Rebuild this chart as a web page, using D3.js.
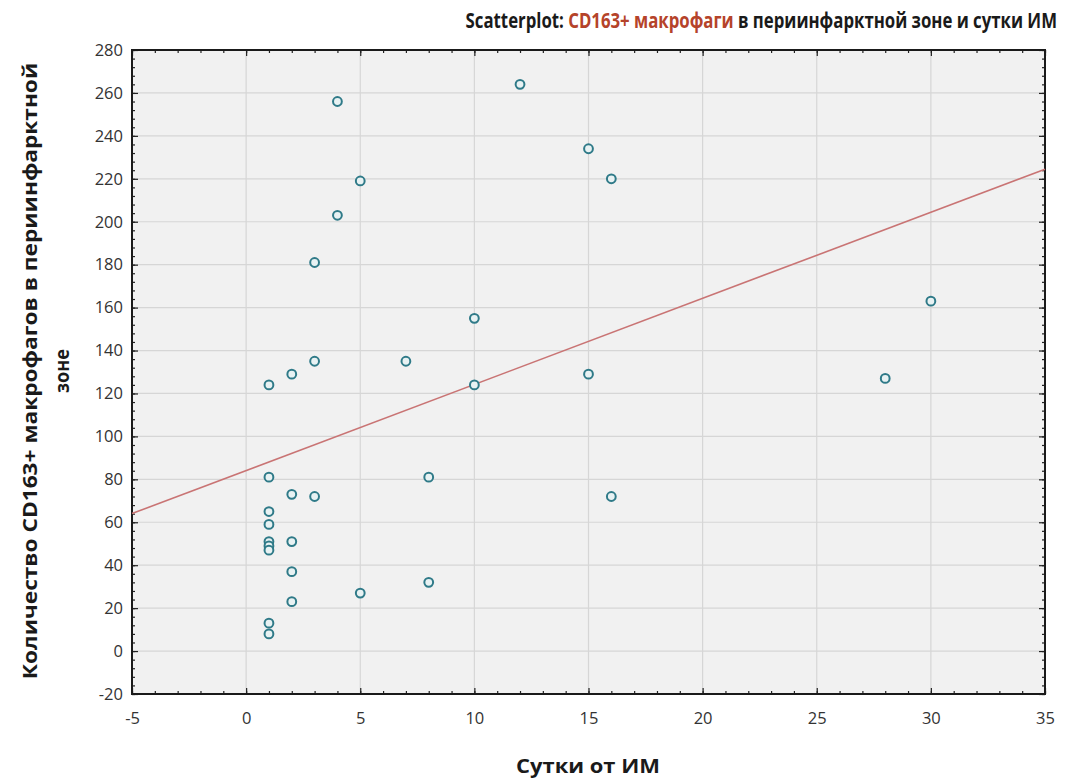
<!DOCTYPE html>
<html>
<head>
<meta charset="utf-8">
<script src="https://cdn.jsdelivr.net/npm/d3@7/dist/d3.min.js"></script>
<style>
  html, body { margin: 0; padding: 0; background: #ffffff; }
  svg { display: block; }
</style>
</head>
<body>
<svg id="chart" width="1068" height="781"></svg>
<script>
// Days since MI (x) and CD163+ macrophage count in the peri-infarct zone (y)
const days = [1, 1, 1, 1, 1, 1, 1, 1, 1,
              2, 2, 2, 2, 2,
              3, 3, 3,
              4, 4,
              5, 5,
              7,
              8, 8,
              10, 10,
              12,
              15, 15,
              16, 16,
              28,
              30];
const cd163 = [124, 81, 65, 59, 51, 49, 47, 13, 8,
               129, 73, 51, 37, 23,
               181, 135, 72,
               256, 203,
               219, 27,
               135,
               81, 32,
               155, 124,
               264,
               234, 129,
               220, 72,
               127,
               163];

// Fitted linear trend: y = intercept + slope * x
const fitIntercept = 84.1;
const fitSlope = 4.01;

const xDomain = [-5, 35];
const yDomain = [-20, 280];
const xTicks = [-5, 0, 5, 10, 15, 20, 25, 30, 35];
const yTicks = [-20, 0, 20, 40, 60, 80, 100, 120, 140, 160, 180, 200, 220, 240, 260, 280];

const titleParts = [
  { text: "Scatterplot: ", color: "#1a1a1a" },
  { text: "CD163+ макрофаги", color: "#b5432a" },
  { text: " в периинфарктной зоне и сутки ИМ", color: "#1a1a1a" }
];
const xLabel = "Сутки от ИМ";
const yLabelLines = ["Количество CD163+ макрофагов в периинфарктной", "зоне"];

const svg = d3.select("#chart");
const plot = { left: 132, right: 1045, top: 50, bottom: 694 };

const x = d3.scaleLinear().domain(xDomain).range([plot.left, plot.right]);
const y = d3.scaleLinear().domain(yDomain).range([plot.bottom, plot.top]);

const font = "'Open Sans', 'Noto Sans', 'DejaVu Sans', sans-serif";
const plainNum = d => String(d);   // hyphen-minus for negatives

// plot background
svg.append("rect")
  .attr("x", plot.left).attr("y", plot.top)
  .attr("width", plot.right - plot.left).attr("height", plot.bottom - plot.top)
  .attr("fill", "#f1f1f1");

// grid lines at major ticks
const grid = svg.append("g");
grid.selectAll("line.gx").data(xTicks.slice(1, -1)).join("line")
  .attr("x1", d => x(d)).attr("x2", d => x(d))
  .attr("y1", plot.top).attr("y2", plot.bottom)
  .attr("stroke", "#d6d6d6").attr("stroke-width", 1.2);
grid.selectAll("line.gy").data(yTicks.slice(1, -1)).join("line")
  .attr("y1", d => y(d)).attr("y2", d => y(d))
  .attr("x1", plot.left).attr("x2", plot.right)
  .attr("stroke", "#d6d6d6").attr("stroke-width", 1.2);

// minor ticks: every 1 day on x, every 4 units on y
const xMinor = d3.range(xDomain[0], xDomain[1] + 0.001, 1);
const yMinor = d3.range(yDomain[0], yDomain[1] + 0.001, 4);

function tickAxis(axisGen, transform) {
  const g = svg.append("g").attr("transform", transform).call(axisGen);
  g.select(".domain").remove();
  g.selectAll("line").attr("stroke", "#222").attr("stroke-width", 1.2);
  return g;
}

// inward ticks on all four sides
tickAxis(d3.axisBottom(x).tickValues(xMinor).tickSize(-3).tickFormat(""), `translate(0,${plot.bottom})`);
tickAxis(d3.axisBottom(x).tickValues(xTicks).tickSize(-6).tickFormat(""), `translate(0,${plot.bottom})`);
tickAxis(d3.axisTop(x).tickValues(xMinor).tickSize(-3).tickFormat(""), `translate(0,${plot.top})`);
tickAxis(d3.axisTop(x).tickValues(xTicks).tickSize(-6).tickFormat(""), `translate(0,${plot.top})`);
tickAxis(d3.axisLeft(y).tickValues(yMinor).tickSize(-3).tickFormat(""), `translate(${plot.left},0)`);
tickAxis(d3.axisLeft(y).tickValues(yTicks).tickSize(-6).tickFormat(""), `translate(${plot.left},0)`);
tickAxis(d3.axisRight(y).tickValues(yMinor).tickSize(-3).tickFormat(""), `translate(${plot.right},0)`);
tickAxis(d3.axisRight(y).tickValues(yTicks).tickSize(-6).tickFormat(""), `translate(${plot.right},0)`);

// tick labels
const xAxisLabels = svg.append("g").attr("transform", `translate(0,${plot.bottom})`)
  .call(d3.axisBottom(x).tickValues(xTicks).tickSize(0).tickPadding(18).tickFormat(plainNum));
xAxisLabels.select(".domain").remove();
xAxisLabels.selectAll("text")
  .attr("font-family", font).attr("font-size", 16.5).attr("fill", "#333");

const yAxisLabels = svg.append("g").attr("transform", `translate(${plot.left},0)`)
  .call(d3.axisLeft(y).tickValues(yTicks).tickSize(0).tickPadding(9).tickFormat(plainNum));
yAxisLabels.select(".domain").remove();
yAxisLabels.selectAll("text")
  .attr("font-family", font).attr("font-size", 16.5).attr("fill", "#333");

// frame
svg.append("rect")
  .attr("x", plot.left).attr("y", plot.top)
  .attr("width", plot.right - plot.left).attr("height", plot.bottom - plot.top)
  .attr("fill", "none").attr("stroke", "#1a1a1a").attr("stroke-width", 2);

// regression line
svg.append("line")
  .attr("x1", x(xDomain[0])).attr("y1", y(fitIntercept + fitSlope * xDomain[0]))
  .attr("x2", x(xDomain[1])).attr("y2", y(fitIntercept + fitSlope * xDomain[1]))
  .attr("stroke", "#c97474").attr("stroke-width", 1.6);

// points
const pts = days.map((d, i) => ({ d, v: cd163[i] }));
svg.append("g").selectAll("circle").data(pts).join("circle")
  .attr("cx", p => x(p.d)).attr("cy", p => y(p.v)).attr("r", 4.4)
  .attr("fill", "#e8f2f3").attr("stroke", "#2f7a88").attr("stroke-width", 2);

// horizontally condense a text element (inside its own group) to a given width
function condense(group, textSel, width, anchorX, anchorY, extra) {
  const w = textSel.node().getComputedTextLength();
  group.attr("transform", `translate(${anchorX},${anchorY}) ${extra || ""} scale(${width / w},1)`);
}

// title, right-aligned, spanning ~592px
const tg = svg.append("g");
const title = tg.append("text")
  .attr("x", 0).attr("y", 0).attr("text-anchor", "end")
  .attr("font-family", font).attr("font-weight", "bold").attr("font-size", 20.5);
titleParts.forEach(p => title.append("tspan").attr("fill", p.color).text(p.text));
condense(tg, title, 592, 1057, 28);

// x axis title
const xg = svg.append("g");
const xt = xg.append("text")
  .attr("x", 0).attr("y", 0).attr("text-anchor", "middle")
  .attr("font-family", font).attr("font-weight", "bold").attr("font-size", 20)
  .attr("fill", "#1a1a1a").text(xLabel);
condense(xg, xt, 144, 588, 773);

// y axis title (two lines, rotated)
const yg1 = svg.append("g");
const yt1 = yg1.append("text")
  .attr("x", 0).attr("y", 0).attr("text-anchor", "middle")
  .attr("font-family", font).attr("font-weight", "bold").attr("font-size", 19.5)
  .attr("fill", "#1a1a1a").text(yLabelLines[0]);
condense(yg1, yt1, 617, 37, 371, "rotate(-90)");

const yg2 = svg.append("g");
const yt2 = yg2.append("text")
  .attr("x", 0).attr("y", 0).attr("text-anchor", "middle")
  .attr("font-family", font).attr("font-weight", "bold").attr("font-size", 19.5)
  .attr("fill", "#1a1a1a").text(yLabelLines[1]);
condense(yg2, yt2, 44, 69, 371, "rotate(-90)");
</script>
</body>
</html>
